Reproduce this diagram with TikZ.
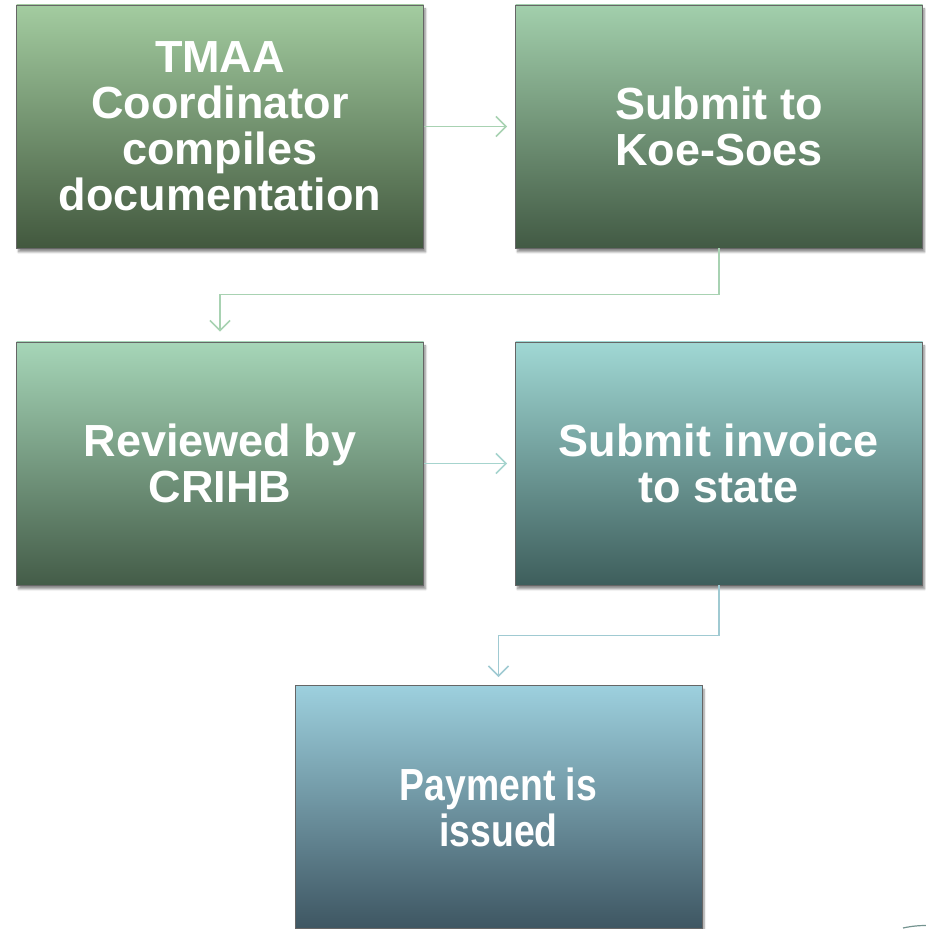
\documentclass[tikz,border=0pt]{standalone}
\usepackage{fontspec}
\setmainfont{Liberation Sans}
\usetikzlibrary{arrows.meta,shadows.blur}
\definecolor{aOneTop}{RGB}{163,204,160}
\definecolor{aOneBot}{RGB}{66,88,62}
\definecolor{aTwoTop}{RGB}{162,207,172}
\definecolor{aTwoBot}{RGB}{66,90,68}
\definecolor{aThreeTop}{RGB}{166,214,184}
\definecolor{aThreeBot}{RGB}{68,92,72}
\definecolor{aFourTop}{RGB}{160,216,212}
\definecolor{aFourBot}{RGB}{62,94,92}
\definecolor{aFiveTop}{RGB}{157,208,222}
\definecolor{aFiveBot}{RGB}{62,86,98}
\definecolor{lnGreen}{RGB}{168,210,178}
\definecolor{lnTeal}{RGB}{166,212,206}
\definecolor{lnBlue}{RGB}{160,202,210}
\tikzset{
  x=1pt,y=1pt,
  stepbox/.style={draw=black!60, line width=0.9pt, minimum width=407pt, minimum height=243pt,
    inner sep=0pt, align=center, text=white, font=\bfseries\fontsize{45}{46}\selectfont,
    blur shadow={shadow xshift=2pt, shadow yshift=-4pt, shadow blur steps=6, shadow opacity=45}},
  conn/.style={line width=1.6pt, -{Straight Barb[length=10pt,width=20pt,line width=1.6pt]}}
}
\begin{document}
\begin{tikzpicture}
\useasboundingbox (0,0) rectangle (926,929);
\node[stepbox, top color=aOneTop, bottom color=aOneBot] (b1) at (220,802.5)
  {TMAA\\Coordinator\\compiles\\documentation};
\node[stepbox, top color=aTwoTop, bottom color=aTwoBot] (b2) at (719,802.5)
  {Submit to\\Koe-Soes};
\node[stepbox, top color=aThreeTop, bottom color=aThreeBot] (b3) at (220,465.5)
  {Reviewed by\\CRIHB};
\node[stepbox, top color=aFourTop, bottom color=aFourBot] (b4) at (719,465.5)
  {Submit invoice\\to state};
\node[stepbox, top color=aFiveTop, bottom color=aFiveBot] (b5) at (498.5,122)
  {\scalebox{0.83}[1]{Payment is}\\\scalebox{0.83}[1]{issued}};
\draw[conn, lnGreen, shorten >=8pt] (b1.east) -- (b2.west);
\draw[conn, lnGreen, shorten >=10pt] (b2.south) -- ++(0,-46) -| (b3.north);
\draw[conn, lnTeal, shorten >=8pt] (b3.east) -- (b4.west);
\draw[conn, lnBlue, shorten >=8pt] (b4.south) -- ++(0,-50) -| (b5.north);
\draw[lnTeal!70!black, line width=1.2pt] (903,1) .. controls (912,3) and (920,3.5) .. (926,3.5);
\end{tikzpicture}
\end{document}
